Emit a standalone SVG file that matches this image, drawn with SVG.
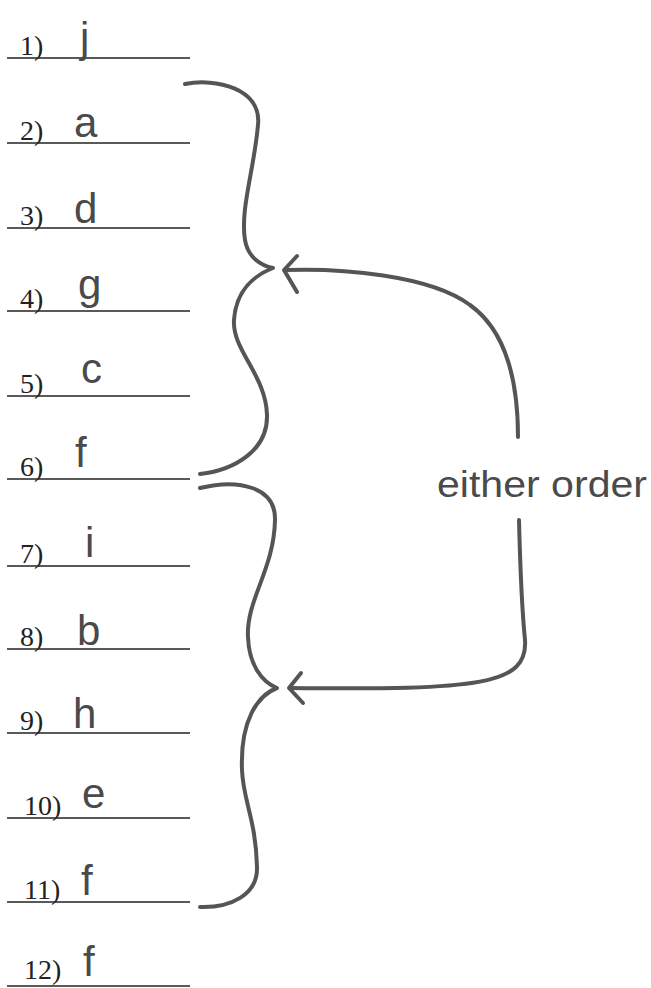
<svg xmlns="http://www.w3.org/2000/svg" width="651" height="988" viewBox="0 0 651 988">
<style>
.rule{stroke:#222;stroke-width:1.6;fill:none}
.num{font-family:"Liberation Serif",serif;font-size:28px;fill:#222}
.ans{font-family:"Liberation Sans",sans-serif;font-size:42px;fill:#4a4a4a}
.pen{stroke:#555;stroke-width:4;fill:none;stroke-linecap:round;stroke-linejoin:round}
.note{font-family:"Liberation Sans",sans-serif;font-size:36px;fill:#4a4a4a}
</style>
<rect width="651" height="988" fill="#fff"/>
<g id="item1"><line class="rule" x1="7" y1="58" x2="190" y2="58"/><text class="num" x="20" y="55">1)</text><text class="ans" x="80" y="52">j</text></g>
<g id="item2"><line class="rule" x1="7" y1="143" x2="190" y2="143"/><text class="num" x="20" y="140">2)</text><text class="ans" x="74" y="137">a</text></g>
<g id="item3"><line class="rule" x1="7" y1="228" x2="190" y2="228"/><text class="num" x="20" y="225">3)</text><text class="ans" x="74" y="223">d</text></g>
<g id="item4"><line class="rule" x1="7" y1="311" x2="190" y2="311"/><text class="num" x="20" y="308">4)</text><text class="ans" x="78" y="299">g</text></g>
<g id="item5"><line class="rule" x1="7" y1="396" x2="190" y2="396"/><text class="num" x="20" y="393">5)</text><text class="ans" x="81" y="383">c</text></g>
<g id="item6"><line class="rule" x1="7" y1="479" x2="190" y2="479"/><text class="num" x="20" y="476">6)</text><text class="ans" x="75" y="467">f</text></g>
<g id="item7"><line class="rule" x1="7" y1="566" x2="190" y2="566"/><text class="num" x="20" y="563">7)</text><text class="ans" x="85" y="557">i</text></g>
<g id="item8"><line class="rule" x1="7" y1="649" x2="190" y2="649"/><text class="num" x="20" y="646">8)</text><text class="ans" x="77" y="645">b</text></g>
<g id="item9"><line class="rule" x1="7" y1="733" x2="190" y2="733"/><text class="num" x="20" y="730">9)</text><text class="ans" x="73" y="728">h</text></g>
<g id="item10"><line class="rule" x1="7" y1="818" x2="190" y2="818"/><text class="num" x="24" y="815">10)</text><text class="ans" x="82" y="808">e</text></g>
<g id="item11"><line class="rule" x1="7" y1="902" x2="190" y2="902"/><text class="num" x="24" y="899">11)</text><text class="ans" x="81" y="895">f</text></g>
<g id="item12"><line class="rule" x1="7" y1="986" x2="190" y2="986"/><text class="num" x="24" y="979">12)</text><text class="ans" x="83" y="976">f</text></g>
<g id="label"><text class="note" x="437" y="497" textLength="210" lengthAdjust="spacingAndGlyphs">either order</text></g>
<g id="connectors">
<path class="pen" d="M185,84 C215,78 262,88 258,125 C254,170 240,210 245,240 C248,258 262,266 273,268 C255,275 236,290 234,320 C232,350 266,375 267,415 C268,450 235,470 200,474"/>
<path class="pen" d="M200,488 C240,478 276,488 275,520 C274,570 246,600 248,637 C249,665 262,682 277,688 C258,695 240,720 242,770 C243,800 256,820 257,867 C258,895 230,908 200,907"/>
<path class="pen" d="M518,437 C518,380 505,330 470,305 C430,275 340,268 285,270"/>
<path class="pen" d="M297,256 L284,270 L297,292"/>
<path class="pen" d="M519,520 C520,560 522,610 525,640 C528,685 480,690 290,688"/>
<path class="pen" d="M301,673 L289,688 L303,703"/>
</g>
</svg>
